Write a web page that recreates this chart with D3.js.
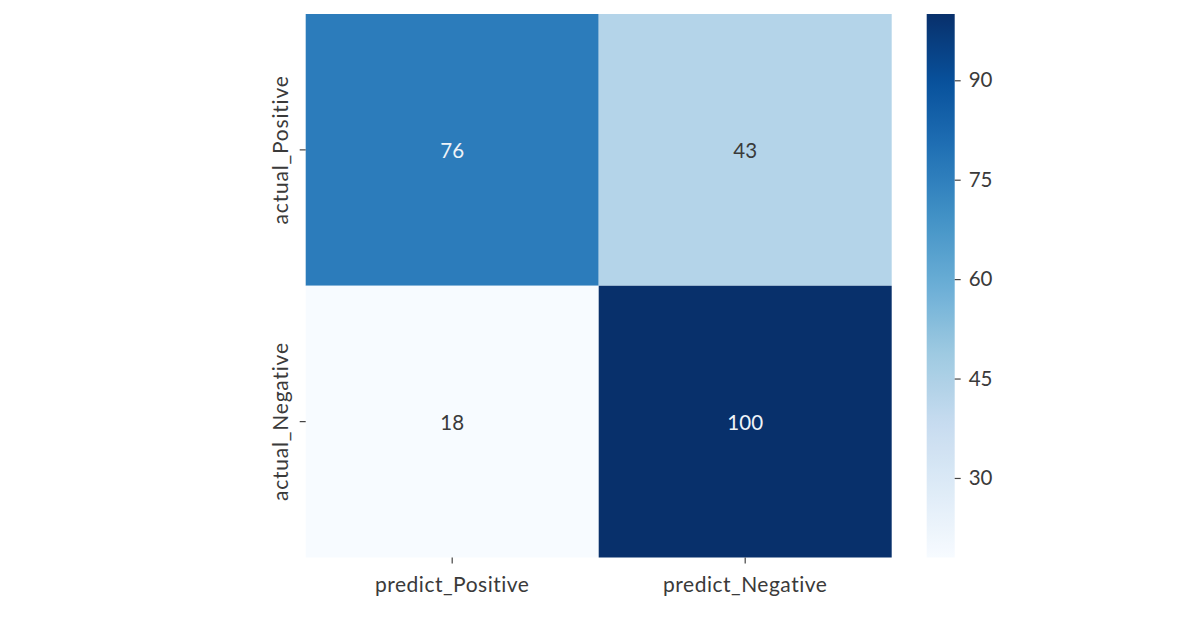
<!DOCTYPE html>
<html><head><meta charset="utf-8">
<script src="https://cdn.jsdelivr.net/npm/d3@7"></script>
<style>body{margin:0;background:#fff;} text{font-family:Lato,"DejaVu Sans",sans-serif;}</style>
</head><body>
<svg id="c" width="1200" height="629"></svg>
<script>
const rowLabels = ["actual_Positive", "actual_Negative"];
const colLabels = ["predict_Positive", "predict_Negative"];
const values = [[76, 43], [18, 100]];
const cbTicks = [30, 45, 60, 75, 90];
const blues = ["#f7fbff","#deebf7","#c6dbef","#9ecae1","#6baed6","#4292c6","#2171b5","#08519c","#08306b"];

const FS = 20.5, AFS = 21;
const svg = d3.select("#c");
const L = 305.7, R = 891.7, T = 14, B = 557.5;
const x = d3.scaleBand().domain(colLabels).range([L, R]);
const y = d3.scaleBand().domain(rowLabels).range([T, B]);
const flat = values.flat();
const vmin = d3.min(flat), vmax = d3.max(flat);
const interp = d3.piecewise(d3.interpolateRgb, blues);
const color = d3.scaleSequential(interp).domain([vmin, vmax]);

const cells = [];
rowLabels.forEach((r, i) => colLabels.forEach((c, j) => cells.push({r, c, v: values[i][j]})));

svg.selectAll("rect.cell").data(cells).join("rect")
  .attr("x", d => x(d.c)).attr("y", d => y(d.r))
  .attr("width", x.bandwidth()).attr("height", y.bandwidth())
  .attr("fill", d => color(d.v));

svg.selectAll("text.ann").data(cells).join("text")
  .attr("x", d => x(d.c) + x.bandwidth()/2).attr("y", d => y(d.r) + y.bandwidth()/2)
  .attr("text-anchor", "middle").attr("dominant-baseline", "central")
  .attr("font-size", FS)
  .attr("fill", d => (d.v - vmin)/(vmax - vmin) > 0.5 ? "#eef3f8" : "#3a3a3a")
  .text(d => d.v);

// bottom axis
const xa = svg.append("g").attr("transform", `translate(0,${B})`)
  .call(d3.axisBottom(x).tickSize(6).tickPadding(8));
xa.select(".domain").remove();
xa.selectAll("line").attr("stroke", "#444").attr("stroke-width", 1.2);
xa.selectAll("text").attr("font-size", AFS).attr("fill", "#3a3a3a").attr("letter-spacing", 0.5)
  .attr("dy", null).attr("y", 34.5).style("font-family", 'Lato,"DejaVu Sans",sans-serif');

// left axis
const ya = svg.append("g").attr("transform", `translate(${L},0)`)
  .call(d3.axisLeft(y).tickSize(6).tickPadding(8));
ya.select(".domain").remove();
ya.selectAll("line").attr("stroke", "#444").attr("stroke-width", 1.2);
ya.selectAll("text").attr("font-size", AFS).attr("fill", "#3a3a3a").attr("letter-spacing", 0.8)
  .attr("text-anchor", "middle").attr("dy", null).attr("x", 0).attr("y", -17.7)
  .attr("transform", "rotate(-90)").style("font-family", 'Lato,"DejaVu Sans",sans-serif');

// colorbar
const cbL = 926.7, cbW = 28;
const cy = d3.scaleLinear().domain([vmin, vmax]).range([B, T]);
const defs = svg.append("defs");
const grad = defs.append("linearGradient").attr("id", "g").attr("x1", 0).attr("y1", 1).attr("x2", 0).attr("y2", 0);
d3.range(0, 1.0001, 0.02).forEach(t => grad.append("stop").attr("offset", t).attr("stop-color", interp(t)));
svg.append("rect").attr("x", cbL).attr("y", T).attr("width", cbW).attr("height", B - T).attr("fill", "url(#g)");
const ca = svg.append("g").attr("transform", `translate(${cbL + cbW},0)`)
  .call(d3.axisRight(cy).tickValues(cbTicks).tickSize(6).tickPadding(8));
ca.select(".domain").remove();
ca.selectAll("line").attr("stroke", "#444").attr("stroke-width", 1.2);
ca.selectAll("text").attr("font-size", FS).attr("fill", "#3a3a3a").style("font-family", 'Lato,"DejaVu Sans",sans-serif');
</script>
</body></html>
